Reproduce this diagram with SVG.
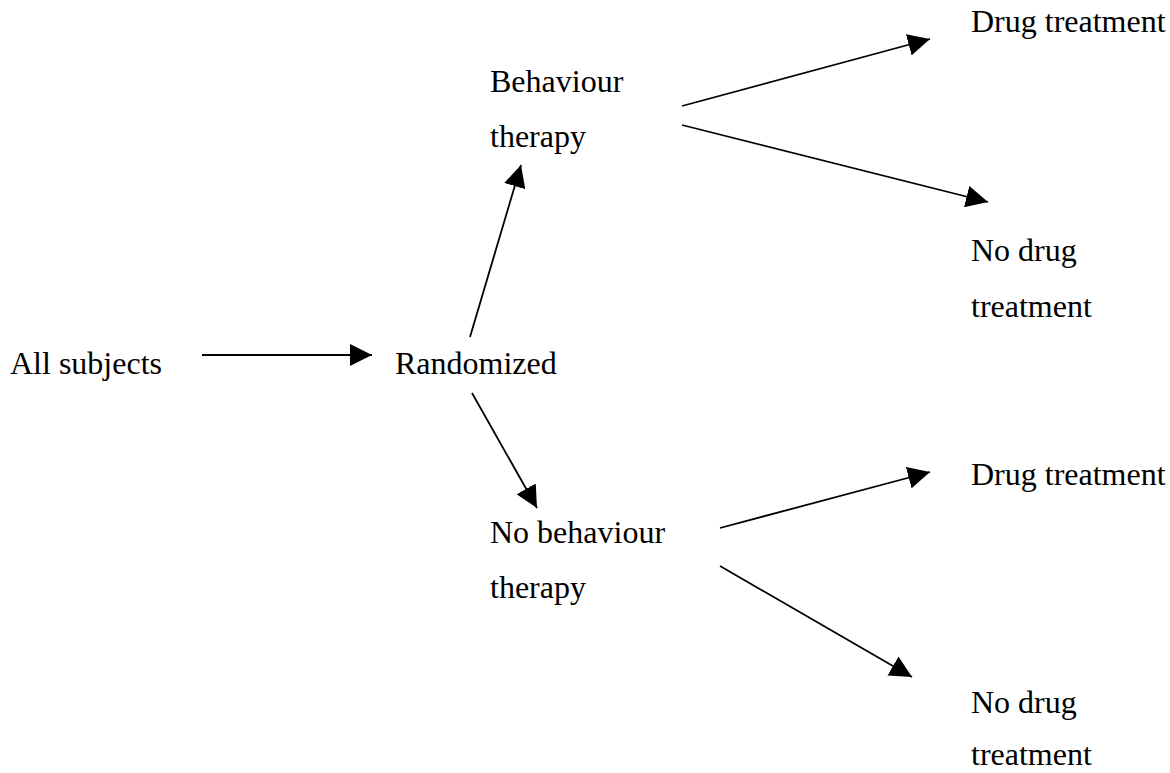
<svg xmlns="http://www.w3.org/2000/svg" width="1170" height="773" viewBox="0 0 1170 773">
<style>
text{font-family:"Liberation Serif","Times New Roman",serif;font-size:32px;fill:#000}
.c line{stroke:#000;stroke-width:1.8;fill:none;marker-end:url(#ah)}
</style>
<defs>
<marker id="ah" markerUnits="userSpaceOnUse" markerWidth="22" markerHeight="22" refX="20" refY="10" orient="auto" viewBox="0 0 20 20">
<path d="M0,0 L20,10 L0,20 z" fill="#000"/>
</marker>
</defs>
<rect width="1170" height="773" fill="#fff"/>
<g class="c" id="connectors">
<line x1="202" y1="355" x2="372" y2="355"/>
<line x1="470" y1="337" x2="521" y2="165"/>
<line x1="472" y1="393" x2="537" y2="508"/>
<line x1="682" y1="106" x2="930" y2="39"/>
<line x1="682" y1="125" x2="988" y2="202"/>
<line x1="720" y1="528" x2="930" y2="472"/>
<line x1="720" y1="566" x2="912" y2="677"/>
</g>
<g id="all"><text x="10" y="374">All subjects</text></g>
<g id="rand"><text x="395" y="374">Randomized</text></g>
<g id="bt"><text x="490" y="92">Behaviour</text><text x="490" y="147">therapy</text></g>
<g id="nbt"><text x="490" y="543">No behaviour</text><text x="490" y="598">therapy</text></g>
<g id="d1"><text x="971" y="32">Drug treatment</text></g>
<g id="nd1"><text x="971" y="261">No drug</text><text x="971" y="317">treatment</text></g>
<g id="d2"><text x="971" y="485">Drug treatment</text></g>
<g id="nd2"><text x="971" y="713">No drug</text><text x="971" y="765">treatment</text></g>
</svg>
